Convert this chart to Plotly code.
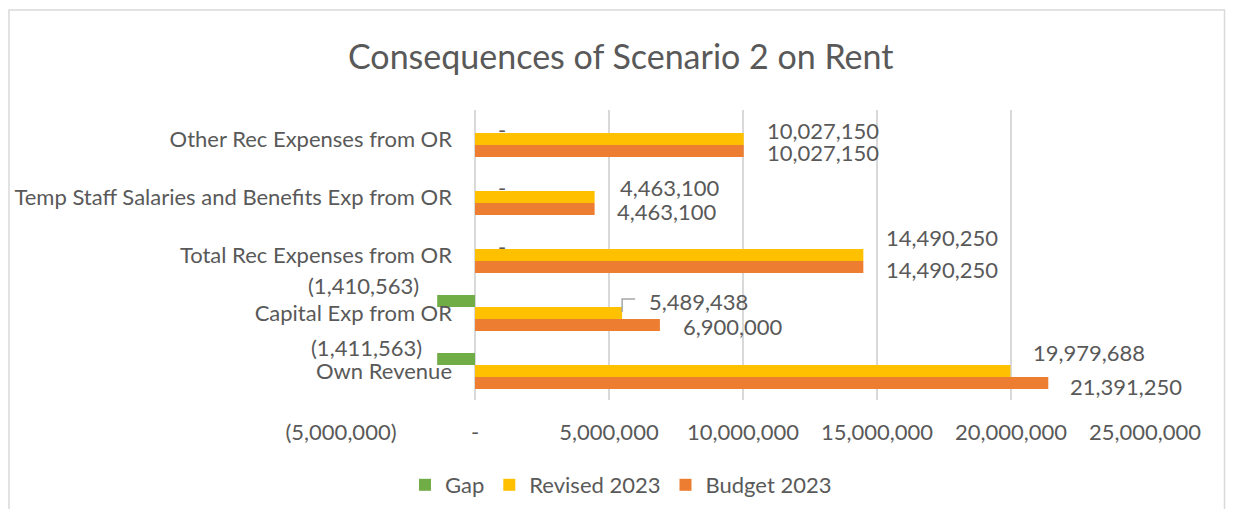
import plotly.graph_objects as go

categories = ["Own Revenue", "Capital Exp from OR", "Total Rec Expenses from OR",
              "Temp Staff Salaries and Benefits Exp from OR", "Other Rec Expenses from OR"]
budget_2023 = [21391250, 6900000, 14490250, 4463100, 10027150]
revised_2023 = [19979688, 5489438, 14490250, 4463100, 10027150]
gap = [-1411563, -1410563, 0, 0, 0]

x_tickvals = [-5000000, 0, 5000000, 10000000, 15000000, 20000000, 25000000]
x_ticktext = ["(5,000,000)", "-", "5,000,000", "10,000,000", "15,000,000", "20,000,000", "25,000,000"]

# label nudges (pixels): (xshift, yshift relative to category centre)
rev_shift = [(22, 19), (26, 12), (22, 18), (24, 10), (22, 9)]
bud_shift = [(21, -15), (22, -13), (22, -14), (21, -14), (22, -13)]
gap_shift = [(-14, 24), (-17, 28), (22, 9), (22, 10), (22, 10)]

# the page body adds an 8px margin; size the figure so the page does not overflow the window
W, H = 1218, 501
FONT = "Lato"
TXT = "#595959"
COL_B, COL_R, COL_G = "#ED7D31", "#FFC000", "#70AD47"
FS = 22


def acct(v):
    if v == 0:
        return "-"
    if v < 0:
        return "({:,})".format(-v)
    return "{:,}".format(v)


fig = go.Figure()
fig.add_trace(go.Bar(name="Budget 2023", y=categories, x=budget_2023, orientation="h",
                     marker=dict(color=COL_B, line=dict(width=0))))
fig.add_trace(go.Bar(name="Revised 2023", y=categories, x=revised_2023, orientation="h",
                     marker=dict(color=COL_R, line=dict(width=0))))
fig.add_trace(go.Bar(name="Gap", y=categories, x=gap, orientation="h",
                     marker=dict(color=COL_G, line=dict(width=0))))

annotations = []
for i, c in enumerate(categories):
    for vals, shifts in ((revised_2023, rev_shift), (budget_2023, bud_shift), (gap, gap_shift)):
        v = vals[i]
        xs, ys = shifts[i]
        annotations.append(dict(
            x=v, y=c, xref="x", yref="y", text=acct(v), showarrow=False,
            xanchor="right" if v < 0 else "left", yanchor="middle",
            xshift=xs, yshift=ys, borderpad=0,
            font=dict(family=FONT, size=FS, color=TXT)))

annotations.append(dict(
    text="Consequences of Scenario 2 on Rent", x=612 / W, y=1 - 47 / H,
    xref="paper", yref="paper", xanchor="center", yanchor="middle", showarrow=False,
    font=dict(family=FONT, size=34, color=TXT)))

shapes = [
    dict(type="rect", xref="paper", yref="paper", x0=1 / W, x1=1216.5 / W, y0=-0.05, y1=1 - 2 / H,
         line=dict(color="#d9d9d9", width=1.5), fillcolor="rgba(0,0,0,0)", layer="below"),
    # leader line for the moved Revised label of Capital Exp
    dict(type="path", xref="x", yref="y", xsizemode="pixel", ysizemode="pixel",
         xanchor=revised_2023[1], yanchor=categories[1],
         path="M0,1 L0,14 L13,14", line=dict(color="#a6a6a6", width=1.5)),
]

fig.update_layout(
    width=W, height=H,
    margin=dict(l=0, r=0, t=0, b=0),
    paper_bgcolor="white", plot_bgcolor="white",
    barmode="group", bargap=0.38, bargroupgap=0,
    font=dict(family=FONT, size=FS, color=TXT),
    showlegend=True,
    legend=dict(orientation="h", traceorder="reversed", x=613 / W, y=1 - 477 / H,
                xanchor="center", yanchor="middle", font=dict(family=FONT, size=FS, color=TXT),
                bgcolor="rgba(0,0,0,0)"),
    xaxis=dict(domain=[333 / W, 1137 / W], range=[-5000000, 25000000],
               tickvals=x_tickvals, ticktext=x_ticktext, showgrid=True, gridcolor="#d9d9d9",
               gridwidth=1.5, zeroline=True, zerolinecolor="#d9d9d9", zerolinewidth=1.5,
               showline=False, ticks="", ticklabelstandoff=17, automargin=False,
               tickfont=dict(family=FONT, size=FS, color=TXT), fixedrange=True),
    yaxis=dict(domain=[1 - 392 / H, 1 - 102 / H], range=[-0.5, 4.5], type="category",
               categoryorder="array", categoryarray=categories,
               anchor="free", position=467 / W, showgrid=False, zeroline=False, showline=False,
               ticks="", ticklabelstandoff=23, automargin=False,
               tickfont=dict(family=FONT, size=FS, color=TXT), fixedrange=True),
    annotations=annotations,
    shapes=shapes,
)

fig.write_html("out.html")
